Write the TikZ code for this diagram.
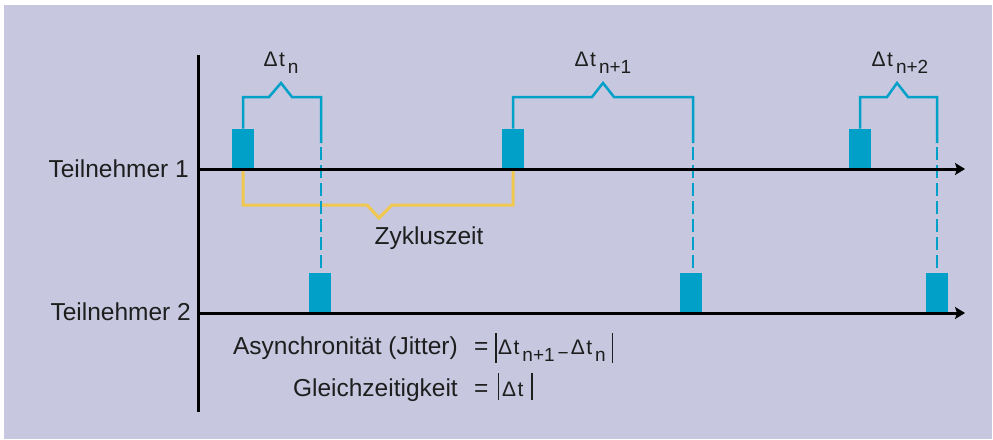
\documentclass[tikz,border=0pt]{standalone}
\usepackage{fontspec}
\setmainfont{Liberation Sans}
\usetikzlibrary{arrows.meta}
\definecolor{bgc}{RGB}{199,199,223}
\definecolor{cyanb}{RGB}{0,160,200}
\definecolor{yel}{RGB}{240,200,80}
\definecolor{txtc}{RGB}{30,30,30}
\newcommand{\dsym}{{\fontsize{21}{21}\selectfont Δ\kern1.5pt t}}
\newcommand{\dtsub}[1]{{\fontsize{21}{21}\selectfont Δ\kern1.5pt t\kern3pt\raisebox{-7.5pt}{\fontsize{19}{19}\selectfont #1}}}
\newcommand{\minussym}{\raisebox{-5pt}{\fontsize{19}{19}\selectfont −}}
\begin{document}
\begin{tikzpicture}[x=1pt,y=-1pt,
  blk/.style={fill=cyanb,inner sep=0,minimum width=21pt,minimum height=40pt,anchor=south},
  axisline/.style={line width=3pt,black},
  tline/.style={line width=3pt,black,-{Stealth[length=10pt,width=12pt,inset=2pt]}},
  brk/.style={cyanb,line width=2.5pt,line join=miter},
  dsh/.style={cyanb,line width=2.5pt,dash pattern=on 13pt off 5pt},
  ybrk/.style={yel,line width=3pt,line join=miter},
  txt/.style={inner sep=0,text=txtc,font=\fontsize{24.5}{26}\selectfont}]
\useasboundingbox (0,0) rectangle (993,439);
\fill[white] (0,0) rectangle (993,439);
\fill[bgc] (4,5) rectangle (992,439);

% blocks on line 1
\node[blk] (b1) at (243,169) {};
\node[blk] (b2) at (513,169) {};
\node[blk] (b3) at (860,169) {};
% blocks on line 2
\node[blk] (c1) at (320,313) {};
\node[blk] (c2) at (691,313) {};
\node[blk] (c3) at (937,313) {};

% axis coordinates
\coordinate (top) at (198,55);
\coordinate (bot) at (198,412);
\coordinate (s1) at (198,169);
\coordinate (e1) at (965,169);
\coordinate (s2) at (198,313);
\coordinate (e2) at (965,313);

% yellow cycle-time bracket
\draw[ybrk] (b1.south) |- (367,205) -- (379,218) -- (392,205) -| (b2.south);

% blue brackets
\coordinate (r1) at (321,143);
\coordinate (d1) at (321,147);
\coordinate (r2) at (693,143);
\coordinate (d2) at (693,147);
\coordinate (r3) at (937,143);
\coordinate (d3) at (937,147);
\draw[brk] (b1.north) |- (269,97) -- (281,83) -- (292,97) -| (r1);
\draw[brk] (b2.north) |- (592,97) -- (603,83) -- (614,97) -| (r2);
\draw[brk] (b3.north) |- (887,97) -- (897,83) -- (908,97) -| (r3);
\draw[dsh] (d1) -- (c1.north -| d1);
\draw[dsh] (d2) -- (c2.north -| d2);
\draw[dsh] (d3) -- (c3.north -| d3);

% redraw blocks above dashes
\fill[cyanb] (b1.south west) rectangle (b1.north east);
\fill[cyanb] (b2.south west) rectangle (b2.north east);
\fill[cyanb] (b3.south west) rectangle (b3.north east);
\fill[cyanb] (c1.south west) rectangle (c1.north east);
\fill[cyanb] (c2.south west) rectangle (c2.north east);
\fill[cyanb] (c3.south west) rectangle (c3.north east);

% axes
\draw[axisline] (top) -- (bot);
\draw[tline] (s1) -- (e1);
\draw[tline] (s2) -- (e2);

% labels
\node[txt,anchor=base east] (t1) at (189,177) {Teilnehmer 1};
\node[txt,anchor=base east] (t2) at (191,320) {Teilnehmer 2};
\node[txt,anchor=base] (l1) at (281,66) {\dtsub{n}};
\node[txt,anchor=base] (l2) at (603,66) {\dtsub{n+1}};
\node[txt,anchor=base] (l3) at (900,66) {\dtsub{n+2}};
\node[txt,anchor=base] (zy) at (429,244) {Zykluszeit};

\node[txt,anchor=base east] (as) at (458,354) {Asynchronität (Jitter)};
\node[txt,anchor=base west] (af) at (474,354) {=\kern6.5pt\rule[-9pt]{1.6pt}{30pt}\kern1.5pt\dtsub{n+1}\kern3pt\minussym\kern2pt\dtsub{n}\kern6pt\rule[-9pt]{1.6pt}{30pt}};
\node[txt,anchor=base east] (gl) at (458,396) {Gleichzeitigkeit};
\node[txt,anchor=base west] (gf) at (474,396) {=\kern9pt\rule[-4pt]{1.6pt}{27pt}\kern3pt\dsym\kern8pt\rule[-4pt]{1.6pt}{27pt}};
\end{tikzpicture}
\end{document}
